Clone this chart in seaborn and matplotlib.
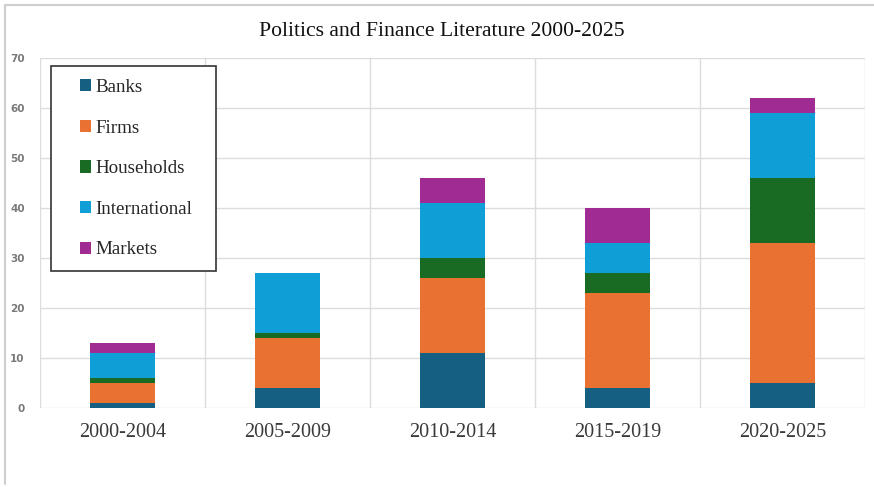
import matplotlib
matplotlib.use("Agg")
import matplotlib.pyplot as plt
import seaborn as sns
import numpy as np
from matplotlib.patches import Rectangle
from matplotlib.lines import Line2D

# dati
periods = ['2000-2004', '2005-2009', '2010-2014', '2015-2019', '2020-2025']
banks = [1, 4, 11, 4, 5]
firms = [4, 10, 15, 19, 28]
households = [1, 1, 4, 4, 13]
international = [5, 12, 11, 6, 13]
markets = [2, 0, 5, 7, 3]

series = {
    'Banks': banks,
    'Firms': firms,
    'Households': households,
    'International': international,
    'Markets': markets,
}
colors = {
    'Banks': '#156082',
    'Firms': '#E97132',
    'Households': '#196B24',
    'International': '#0F9ED5',
    'Markets': '#A02B93',
}

sns.set_theme(style="white")
plt.rcParams['font.family'] = ['Liberation Serif', 'DejaVu Serif']

fig = plt.figure(figsize=(8.74, 4.87), dpi=100)
ax = fig.add_axes([40 / 874, 79 / 487, 825 / 874, 350 / 487])

# barre impilate
bottom = np.zeros(len(periods))
for name, vals in series.items():
    sns.barplot(x=periods, y=vals, bottom=bottom, color=colors[name], saturation=1,
                width=0.39, label=name, ax=ax, zorder=2, linewidth=0)
    bottom = bottom + np.array(vals)

ax.set_ylim(0, 70)
ax.set_xlim(-0.5, 4.5)
ax.set_yticks(range(0, 71, 10))
ax.set_xticks(np.arange(-0.5, 5, 1), minor=True)
ax.grid(axis='y', which='major', color='#dcdcdc', linewidth=1, zorder=0)
ax.grid(axis='x', which='minor', color='#dcdcdc', linewidth=1, zorder=0)
ax.set_axisbelow(True)
for s in ax.spines.values():
    s.set_visible(False)

ax.tick_params(axis='y', length=0, pad=11, labelsize=7.5, labelcolor='#7a7a7a')
ax.tick_params(axis='x', which='both', length=0, pad=11, labelsize=14.5, labelcolor='#3a3a3a')
for lab in ax.get_yticklabels():
    lab.set_family('DejaVu Sans')
    lab.set_fontweight('bold')
ax.set_xlabel('')
ax.set_ylabel('')

# riquadro legenda
ax.add_patch(Rectangle((11 / 825, (408 - 271) / 350), 165 / 825, 205 / 350,
                       transform=ax.transAxes, facecolor='white',
                       edgecolor='#333333', linewidth=1.2, zorder=4))
leg = ax.legend(loc='upper left', bbox_to_anchor=(40 / 825, (408 - 79) / 350),
                frameon=False, fontsize=13.7, handlelength=0.6, handleheight=0.6,
                handletextpad=0.22, labelspacing=1.24, borderpad=0, borderaxespad=0)
leg.set_zorder(5)

fig.text(0.505, 1 - 31 / 487, 'Politics and Finance Literature 2000-2025',
         ha='center', va='center', fontsize=15.6, color='#111111')

# cornice dello screenshot
fig.add_artist(Line2D([5 / 874, 1], [1 - 5 / 487, 1 - 5 / 487], color='#cfcfcf', linewidth=1.5))
fig.add_artist(Line2D([5 / 874, 5 / 874], [1 - 5 / 487, 3 / 487], color='#cfcfcf', linewidth=1.5))

fig.savefig('out.png', dpi=100)
